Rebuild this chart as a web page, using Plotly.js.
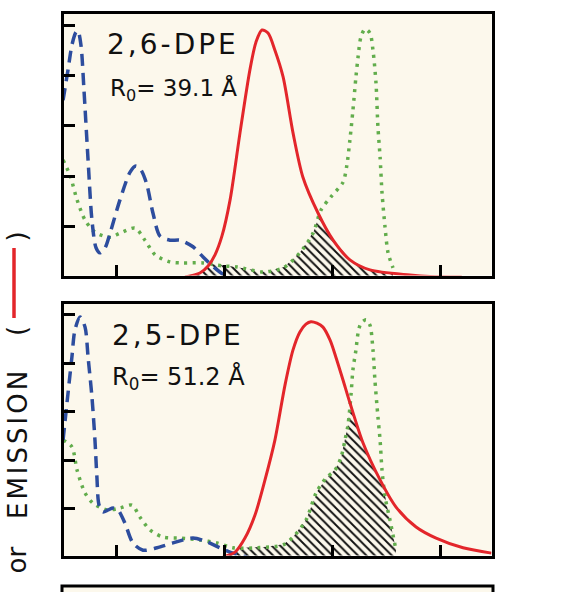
<!DOCTYPE html>
<html>
<head>
<meta charset="utf-8">
<script src="https://cdn.plot.ly/plotly-3.0.1.min.js"></script>
<style>html,body{margin:0;padding:0;background:#fff;overflow:hidden}</style>
</head>
<body>
<div id="chart" style="width:566px;height:592px"></div>
<script>
// ---------- data (x = wavelength, y = relative intensity) ----------
const xTickVals = [250, 300, 350, 400];
const yTickVals = [1, 2, 3, 4, 5];
const panelNames = ["2,6-DPE", "2,5-DPE"];
const r0Values = ["39.1", "51.2"];

// Panel 1 : 2,6-DPE
const dpe26EmissionX = [281.6, 288.5, 292.3, 295.5, 298.7, 302.5, 307.1, 311.7, 314.5, 317.3, 320.1, 323.3, 327.1, 331.7, 336.3, 343.3, 350.3, 358.1, 367.4, 386.0, 395.3, 410.0];
const dpe26EmissionY = [0, 0.08, 0.22, 0.44, 0.81, 1.53, 2.86, 4.11, 4.66, 4.90, 4.84, 4.50, 3.97, 2.86, 1.98, 1.27, 0.73, 0.34, 0.14, 0.04, 0.01, 0];
const dpe26AbsorptionX = [225.0, 227.3, 229.1, 231.0, 231.9, 233.3, 234.7, 236.6, 238.4, 240.3, 242.1, 244.5, 246.8, 251.4, 256.1, 258.8, 261.2, 263.9, 266.7, 270.0, 274.6, 279.3, 285.3, 289.9, 296.4, 301.1];
const dpe26AbsorptionY = [3.51, 4.11, 4.60, 4.86, 4.88, 4.60, 3.71, 2.32, 1.13, 0.58, 0.48, 0.58, 0.87, 1.53, 2.08, 2.20, 2.12, 1.83, 1.27, 0.81, 0.73, 0.73, 0.60, 0.40, 0.14, 0];
const dpe26AcceptorX = [225.0, 228.2, 231.5, 235.2, 239.8, 246.8, 251.4, 258.4, 263.0, 267.7, 274.6, 280.6, 289.9, 299.2, 305.7, 317.8, 327.1, 334.9, 341.0, 344.7, 349.3, 354.9, 356.7, 358.1, 359.5, 360.9, 361.9, 363.2, 365.1, 367.4, 368.8, 370.2, 371.1, 372.1, 373.0, 374.4, 375.8, 378.1];
const dpe26AcceptorY = [2.32, 2.02, 1.53, 1.13, 0.89, 0.79, 0.87, 0.97, 0.73, 0.44, 0.30, 0.28, 0.28, 0.22, 0.20, 0.10, 0.18, 0.48, 0.87, 1.33, 1.59, 1.88, 2.22, 2.72, 3.31, 3.97, 4.37, 4.76, 4.92, 4.84, 4.50, 3.85, 2.98, 2.38, 1.67, 0.99, 0.48, 0.18];

// Panel 2 : 2,5-DPE
const dpe25EmissionX = [299.2, 304.8, 309.4, 314.1, 318.7, 323.3, 328.0, 331.7, 334.9, 337.7, 340.0, 342.8, 345.6, 348.9, 351.6, 354.9, 358.1, 364.2, 372.1, 379.5, 388.8, 398.1, 410.6, 423.8];
const dpe25EmissionY = [0, 0.10, 0.39, 0.87, 1.59, 2.41, 3.55, 4.27, 4.64, 4.80, 4.85, 4.82, 4.74, 4.47, 4.12, 3.65, 3.18, 2.35, 1.59, 1.03, 0.62, 0.39, 0.19, 0.08];
const dpe25AbsorptionX = [225.0, 227.3, 229.1, 230.5, 232.9, 235.2, 236.6, 238.4, 239.8, 240.7, 241.7, 243.5, 245.9, 248.2, 250.5, 253.7, 257.4, 262.1, 268.6, 276.0, 285.3, 291.8, 297.8, 303.8, 310.3];
const dpe25AbsorptionY = [2.41, 3.38, 4.12, 4.68, 4.95, 4.74, 4.12, 3.30, 2.41, 1.65, 1.07, 0.93, 0.97, 1.01, 0.97, 0.70, 0.29, 0.14, 0.19, 0.29, 0.39, 0.31, 0.19, 0.08, 0];
const dpe25AcceptorX = [225.0, 229.1, 231.5, 235.2, 238.9, 245.4, 251.4, 257.0, 260.7, 265.3, 271.4, 279.3, 288.5, 296.4, 303.8, 315.0, 327.1, 331.7, 337.7, 342.4, 347.0, 351.2, 354.0, 355.8, 357.2, 358.6, 359.5, 360.9, 361.9, 363.2, 365.6, 367.4, 368.8, 369.7, 371.1, 372.1, 373.0, 374.4, 376.7, 379.5];
const dpe25AcceptorY = [2.41, 2.27, 1.79, 1.32, 1.11, 0.97, 1.01, 1.07, 0.82, 0.56, 0.41, 0.39, 0.35, 0.29, 0.19, 0.19, 0.25, 0.41, 0.76, 1.32, 1.63, 1.79, 2.06, 2.41, 2.72, 3.34, 3.86, 4.27, 4.62, 4.82, 4.89, 4.78, 4.27, 3.65, 2.89, 2.41, 1.79, 1.24, 0.76, 0.14];

// ---------- helpers ----------
function interp(xs, ys, x) {
  if (x < xs[0] || x > xs[xs.length - 1]) return 0;
  for (let i = 0; i < xs.length - 1; i++) {
    if (x >= xs[i] && x <= xs[i + 1]) {
      const t = (x - xs[i]) / (xs[i + 1] - xs[i]);
      return ys[i] + t * (ys[i + 1] - ys[i]);
    }
  }
  return 0;
}
function overlap(ax, ay, bx, by) {
  const lo = Math.max(ax[0], bx[0]);
  const hi = Math.min(ax[ax.length - 1], bx[bx.length - 1]);
  const ox = [], oy = [];
  ox.push(lo); oy.push(0);
  for (let x = lo; x <= hi + 1e-9; x += 0.25) {
    ox.push(x); oy.push(Math.max(0, Math.min(interp(ax, ay, x), interp(bx, by, x))));
  }
  ox.push(hi); oy.push(0);
  return {x: ox, y: oy};
}

const W = 566, H = 592;
const cream = '#fcf8ec';
const red = '#e3262b', blue = '#2d4d9e', green = '#62ad4c';

const panels = [
  {em: [dpe26EmissionX, dpe26EmissionY], ab: [dpe26AbsorptionX, dpe26AbsorptionY], ac: [dpe26AcceptorX, dpe26AcceptorY], xa: 'x', ya: 'y'},
  {em: [dpe25EmissionX, dpe25EmissionY], ab: [dpe25AbsorptionX, dpe25AbsorptionY], ac: [dpe25AcceptorX, dpe25AcceptorY], xa: 'x2', ya: 'y2'}
];

const traces = [];
panels.forEach(p => {
  const ov = overlap(p.em[0], p.em[1], p.ac[0], p.ac[1]);
  traces.push({x: ov.x, y: ov.y, xaxis: p.xa, yaxis: p.ya, mode: 'lines', line: {width: 0, color: 'rgba(0,0,0,0)'},
    fill: 'tozeroy', fillcolor: 'rgba(0,0,0,0)',
    fillpattern: {shape: '\\', fgcolor: '#111', size: 6, solidity: 0.32}, hoverinfo: 'skip', showlegend: false});
  traces.push({x: p.ac[0], y: p.ac[1], xaxis: p.xa, yaxis: p.ya, mode: 'lines',
    line: {color: green, width: 3.5, dash: '3px,5.5px', shape: 'spline', smoothing: 0.8}, showlegend: false});
  traces.push({x: p.ab[0], y: p.ab[1], xaxis: p.xa, yaxis: p.ya, mode: 'lines',
    line: {color: blue, width: 3.5, dash: '12px,7px', shape: 'spline', smoothing: 0.8}, showlegend: false});
  traces.push({x: p.em[0], y: p.em[1], xaxis: p.xa, yaxis: p.ya, mode: 'lines',
    line: {color: red, width: 3, shape: 'spline', smoothing: 0.8}, showlegend: false});
});

const px = v => v / W;
const py = v => 1 - v / H;

function xAxis(anchor) {
  return {domain: [px(63.5), px(491.5)], range: [225.2, 423.8], anchor: anchor,
    tickvals: xTickVals, ticks: 'inside', ticklen: 11, tickwidth: 3, tickcolor: '#000',
    showticklabels: false, showline: true, linecolor: '#000', linewidth: 3, mirror: true,
    showgrid: false, zeroline: false, fixedrange: true};
}
function yAxis(anchor, top, bottom, scale) {
  return {domain: [py(bottom - 1.5), py(top + 1.5)], range: [1.5 / scale, (bottom - top - 1.5) / scale], anchor: anchor,
    tickvals: yTickVals, ticks: 'inside', ticklen: 11, tickwidth: 3, tickcolor: '#000',
    showticklabels: false, showline: true, linecolor: '#000', linewidth: 3, mirror: true,
    showgrid: false, zeroline: false, fixedrange: true};
}

const font = 'DejaVu Sans';
const annotations = [
  {text: '<span style="letter-spacing:3px">' + panelNames[0] + '</span>', x: px(105), y: py(45), xanchor: 'left', yanchor: 'middle', font: {family: font, size: 28, color: '#111'}},
  {text: 'R<sub>0</sub>= ' + r0Values[0] + ' Å', x: px(108), y: py(89), xanchor: 'left', yanchor: 'middle', font: {family: font, size: 23, color: '#111'}},
  {text: '<span style="letter-spacing:3px">' + panelNames[1] + '</span>', x: px(110), y: py(335), xanchor: 'left', yanchor: 'middle', font: {family: font, size: 28, color: '#111'}},
  {text: 'R<sub>0</sub>= ' + r0Values[1] + ' Å', x: px(110), y: py(378), xanchor: 'left', yanchor: 'middle', font: {family: font, size: 24, color: '#111'}},
  {text: '<span style="letter-spacing:3px">EMISSION</span>', textangle: -90, x: px(17.5), y: py(443.5), xanchor: 'center', yanchor: 'middle', font: {family: font, size: 26, color: '#111'}},
  {text: 'or', textangle: -90, x: px(16.5), y: py(560), xanchor: 'center', yanchor: 'middle', font: {family: font, size: 26, color: '#111'}},
  {text: '(', textangle: -90, x: px(17), y: py(331), xanchor: 'center', yanchor: 'middle', font: {family: font, size: 26, color: '#111'}},
  {text: ')', textangle: -90, x: px(17), y: py(236.5), xanchor: 'center', yanchor: 'middle', font: {family: font, size: 26, color: '#111'}}
].map(a => Object.assign({xref: 'paper', yref: 'paper', showarrow: false}, a));

const shapes = [
  // legend sample line for emission
  {type: 'line', xref: 'paper', yref: 'paper', x0: px(14), x1: px(14), y0: py(248), y1: py(318), line: {color: red, width: 3.5}},
  // top of the next (third) panel, cut by the picture edge
  {type: 'rect', xref: 'paper', yref: 'paper', x0: px(62), x1: px(493), y0: py(640), y1: py(586), fillcolor: cream, line: {color: '#000', width: 3}, layer: 'below'}
];

const layout = {
  width: W, height: H, autosize: false,
  margin: {l: 0, r: 0, t: 0, b: 0, pad: 0},
  paper_bgcolor: '#fff', plot_bgcolor: cream,
  showlegend: false,
  xaxis: xAxis('y'), yaxis: yAxis('x', 12, 277, 50.4),
  xaxis2: xAxis('y2'), yaxis2: yAxis('x2', 302, 557, 48.5),
  annotations: annotations, shapes: shapes
};

Plotly.newPlot('chart', traces, layout, {displayModeBar: false, staticPlot: true});
</script>
</body>
</html>
